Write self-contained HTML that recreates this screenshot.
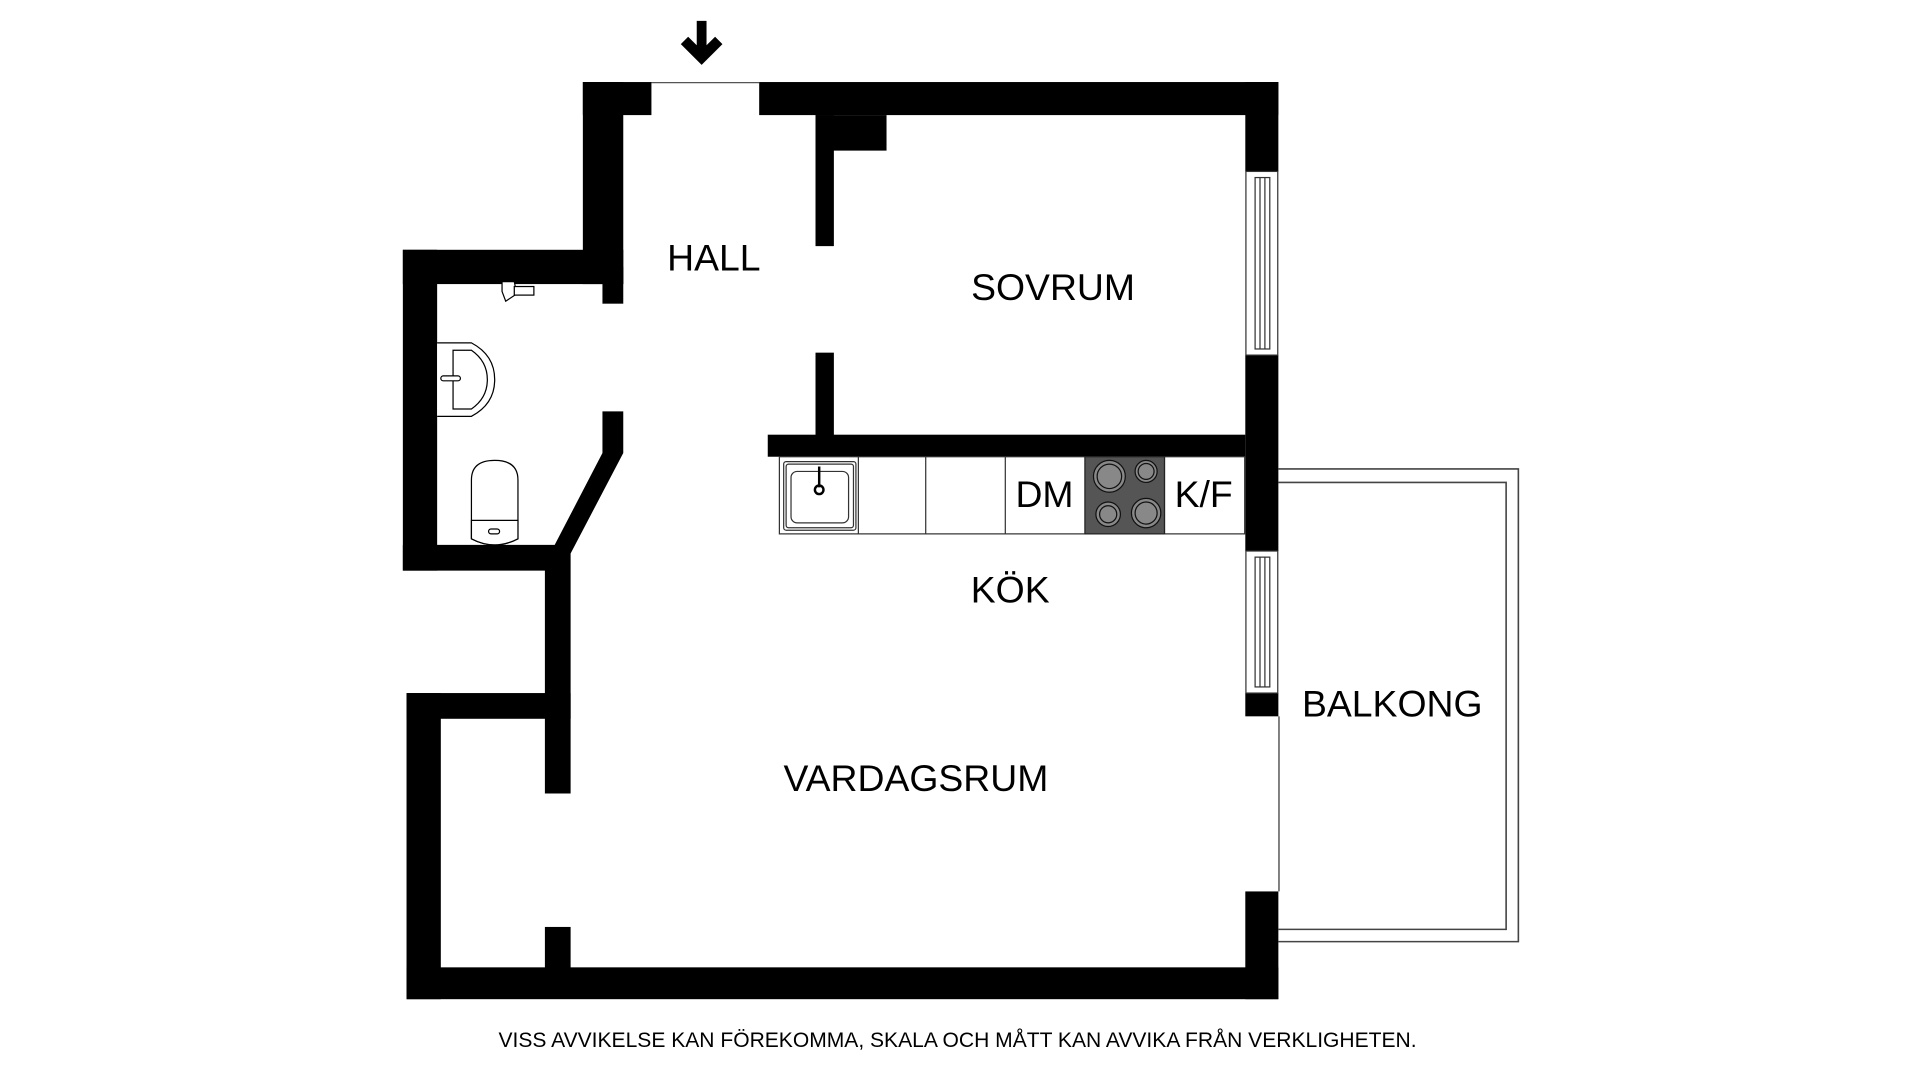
<!DOCTYPE html>
<html><head><meta charset="utf-8"><style>
html,body{margin:0;padding:0;background:#fff;}
svg{display:block;}
text{font-family:"Liberation Sans",sans-serif;fill:#000;}
</style></head><body>
<svg width="1920" height="1080" viewBox="0 0 1568 882" xmlns="http://www.w3.org/2000/svg">
<rect width="1568" height="882" fill="#fff"/>
<polygon points="569,17 577,17 577,37 584,30 590,36 573,53 556,36 562,30 569,37" fill="#000"/>
<line x1="532" y1="67.5" x2="620" y2="67.5" stroke="#555" stroke-width="1"/>
<g fill="#000">
<rect x="476" y="67" width="56" height="27"/>
<rect x="620" y="67" width="424" height="27"/>
<rect x="476" y="67" width="33" height="165"/>
<rect x="492" y="218" width="17" height="30"/>
<rect x="329" y="204" width="180" height="28"/>
<rect x="329" y="204" width="28" height="262"/>
<polygon points="492,336 509,336 509,370 466,452 466,648 445,648 445,466 329,466 329,445 453,445 492,370"/>
<rect x="332" y="566" width="134" height="21"/>
<rect x="332" y="566" width="28" height="250"/>
<rect x="445" y="757" width="21" height="40"/>
<rect x="332" y="790" width="712" height="26"/>
<rect x="1017" y="67" width="27" height="73"/>
<rect x="1017" y="290" width="27" height="160"/>
<rect x="1017" y="566" width="27" height="19"/>
<rect x="1017" y="728" width="27" height="88"/>
<rect x="666" y="94" width="58" height="29"/>
<rect x="666" y="94" width="15" height="107"/>
<rect x="666" y="288" width="15" height="72"/>
<rect x="627" y="355" width="390" height="18"/>
</g>
<g fill="none" stroke="#333" stroke-width="1">
<rect x="1017.5" y="140" width="26" height="150"/>
<rect x="1025" y="145" width="12" height="140"/>
<line x1="1029" y1="145" x2="1029" y2="285"/>
<line x1="1033" y1="145" x2="1033" y2="285"/>
<rect x="1017.5" y="450" width="26" height="116"/>
<rect x="1025" y="455" width="12" height="106"/>
<line x1="1029" y1="455" x2="1029" y2="561"/>
<line x1="1033" y1="455" x2="1033" y2="561"/>
<line x1="1044.5" y1="585" x2="1044.5" y2="728"/>
</g>
<g fill="none" stroke="#444" stroke-width="1.3">
<polyline points="1044,383 1240,383 1240,769 1044,769"/>
<polyline points="1044,394 1230,394 1230,759 1044,759"/>
</g>
<g stroke="#333" stroke-width="1" fill="none">
<rect x="636.5" y="373" width="380" height="63"/>
<line x1="701" y1="373" x2="701" y2="436"/>
<line x1="756" y1="373" x2="756" y2="436"/>
<line x1="821" y1="373" x2="821" y2="436"/>
<line x1="951" y1="373" x2="951" y2="436"/>
<rect x="640" y="377" width="59" height="56" rx="2"/>
<rect x="642" y="379" width="55" height="52" rx="2"/>
<rect x="646" y="385" width="47" height="42" rx="5"/>
</g>
<line x1="669" y1="381" x2="669" y2="398" stroke="#000" stroke-width="2"/>
<circle cx="669" cy="400" r="3.5" fill="none" stroke="#000" stroke-width="2"/>
<rect x="886" y="373" width="65" height="63" fill="#555" stroke="#222"/>
<g fill="#888" stroke="#111" stroke-width="1">
<circle cx="906" cy="389" r="13"/><circle cx="906" cy="389" r="10"/>
<circle cx="936" cy="385" r="9"/><circle cx="936" cy="385" r="6.5"/>
<circle cx="905" cy="420" r="10"/><circle cx="905" cy="420" r="7"/>
<circle cx="936" cy="419" r="12"/><circle cx="936" cy="419" r="9"/>
</g>
<g fill="#fff" stroke="#000" stroke-width="1">
<path d="M357,280 L385,280 Q404,290 404,310 Q404,330 385,340 L357,340"/>
<path d="M370,286 L385,286 Q398,295 398,310 Q398,325 385,334 L370,334 Z"/>
<rect x="360" y="307" width="16" height="4" rx="2"/>
<path d="M385,440 L385,392 Q385,376 404,376 Q423,376 423,392 L423,440 Q404,450 385,440 Z"/>
<path d="M385,425 L423,425 L423,440 Q404,450 385,440 Z"/>
<rect x="399" y="432" width="9" height="4" rx="2"/>
<path d="M410,230 L420,230 L422,240 L413,246 L410,238 Z"/>
<rect x="420" y="234" width="16" height="7"/>
</g>
<text x="583" y="221" font-size="30.5" text-anchor="middle">HALL</text>
<text x="860" y="245" font-size="30.5" text-anchor="middle">SOVRUM</text>
<text x="853" y="414" font-size="30.5" text-anchor="middle">DM</text>
<text x="983" y="414" font-size="30.5" text-anchor="middle">K/F</text>
<text x="825" y="492" font-size="30.5" text-anchor="middle">KÖK</text>
<text x="1137" y="585" font-size="30.5" text-anchor="middle">BALKONG</text>
<text x="748" y="646" font-size="30.5" text-anchor="middle">VARDAGSRUM</text>
<text x="782" y="855" font-size="17.2" text-anchor="middle">VISS AVVIKELSE KAN FÖREKOMMA, SKALA OCH MÅTT KAN AVVIKA FRÅN VERKLIGHETEN.</text>
</svg>
</body></html>
